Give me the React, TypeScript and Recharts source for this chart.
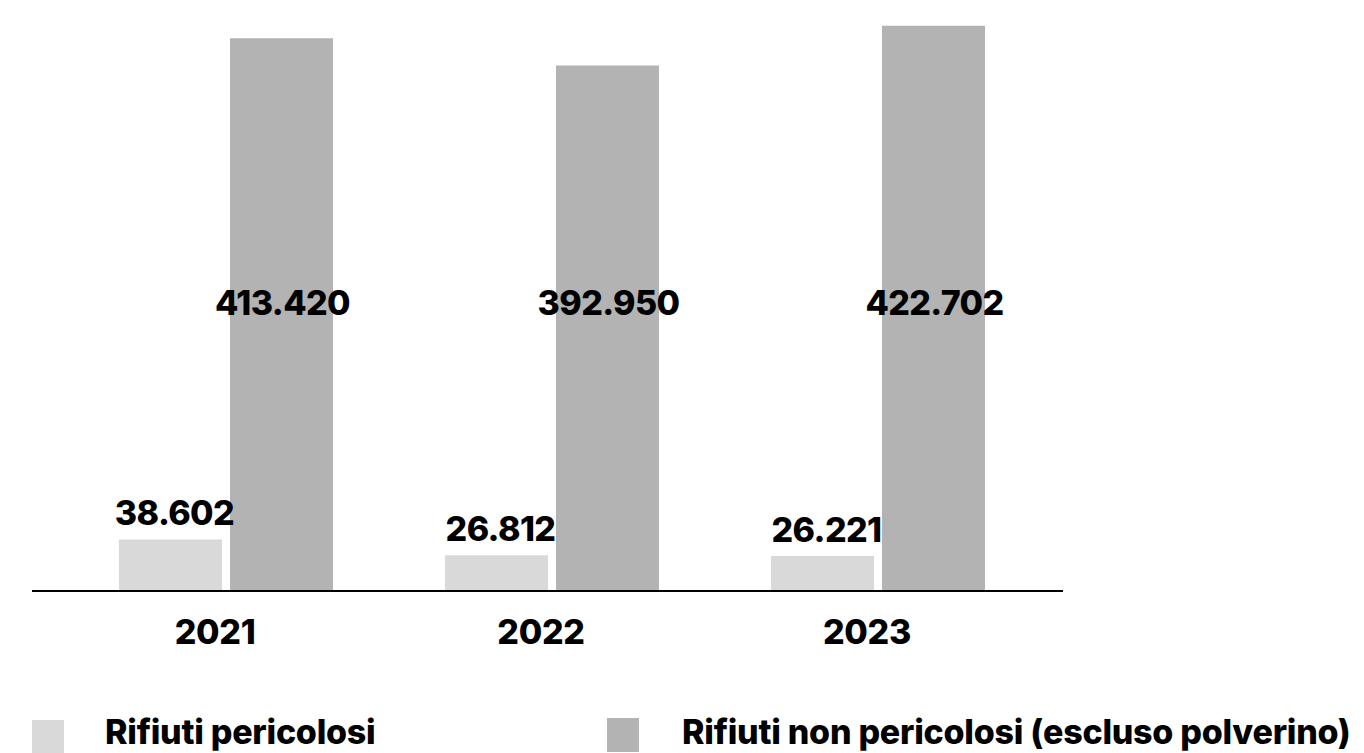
import React from "react";
import { BarChart, Bar, XAxis, YAxis, LabelList } from "recharts";

const years = ["2021", "2022", "2023"];
const pericolosi = [38602, 26812, 26221];
const nonPericolosi = [413420, 392950, 422702];
const seriesNames = ["Rifiuti pericolosi", "Rifiuti non pericolosi (escluso polverino)"];
const seriesColors = ["#d9d9d9", "#b3b3b3"];

const data = years.map((y, i) => ({ year: y, p: pericolosi[i], np: nonPericolosi[i] }));

const FONT = "Inter, 'Liberation Sans', Arial, sans-serif";
const fmt = (v: number) => v.toLocaleString("de-DE");

const LightLabel = (props: any) => {
  const { x, y, width, value } = props;
  return (
    <text x={x + width / 2 + 4} y={y - 14} textAnchor="middle" fontFamily={FONT} fontWeight={800} fontSize={34} letterSpacing={-0.6} fill="#000">
      {fmt(value)}
    </text>
  );
};

const DarkLabel = (props: any) => {
  const { x, y, width, height, value } = props;
  return (
    <text x={x + width / 2 + 1} y={y + height - 276} textAnchor="middle" fontFamily={FONT} fontWeight={800} fontSize={34} letterSpacing={-0.6} fill="#000">
      {fmt(value)}
    </text>
  );
};

const Tick = (props: any) => {
  const { x, y, payload } = props;
  return (
    <text x={x - 11} y={y + 45} textAnchor="middle" fontFamily={FONT} fontWeight={800} fontSize={34} letterSpacing={-0.3} fill="#000">
      {payload.value}
    </text>
  );
};

export default function App() {
  return (
    <div style={{ position: "absolute", left: 0, top: 0, width: 1364, height: 753, background: "#fff", overflow: "hidden" }}>
      <BarChart
        width={1364}
        height={753}
        data={data}
        margin={{ top: 16, right: 323, left: 63, bottom: 0 }}
        barSize={103}
        barGap={8}
      >
        <YAxis hide domain={[0, 430000]} />
        <XAxis dataKey="year" height={162} axisLine={false} tickLine={false} tick={<Tick />} interval={0} />
        <Bar dataKey="p" fill={seriesColors[0]} isAnimationActive={false}>
          <LabelList dataKey="p" content={<LightLabel />} />
        </Bar>
        <Bar dataKey="np" fill={seriesColors[1]} isAnimationActive={false}>
          <LabelList dataKey="np" content={<DarkLabel />} />
        </Bar>
      </BarChart>
      <div style={{ position: "absolute", left: 32, top: 590, width: 1031, height: 1.5, background: "#000" }} />
      <svg style={{ position: "absolute", left: 0, top: 0 }} width={1364} height={753} pointerEvents="none">
        {seriesNames.map((name, i) => {
          const sx = i === 0 ? 32 : 607;
          const tx = i === 0 ? 105 : 682;
          return (
            <g key={name}>
              <rect x={sx} y={i === 0 ? 720 : 718} width={32} height={34} fill={seriesColors[i]} />
              <text x={tx} y={744} fontFamily={FONT} fontWeight={800} fontSize={34} letterSpacing={-0.25} fill="#000">
                {name}
              </text>
            </g>
          );
        })}
      </svg>
    </div>
  );
}
